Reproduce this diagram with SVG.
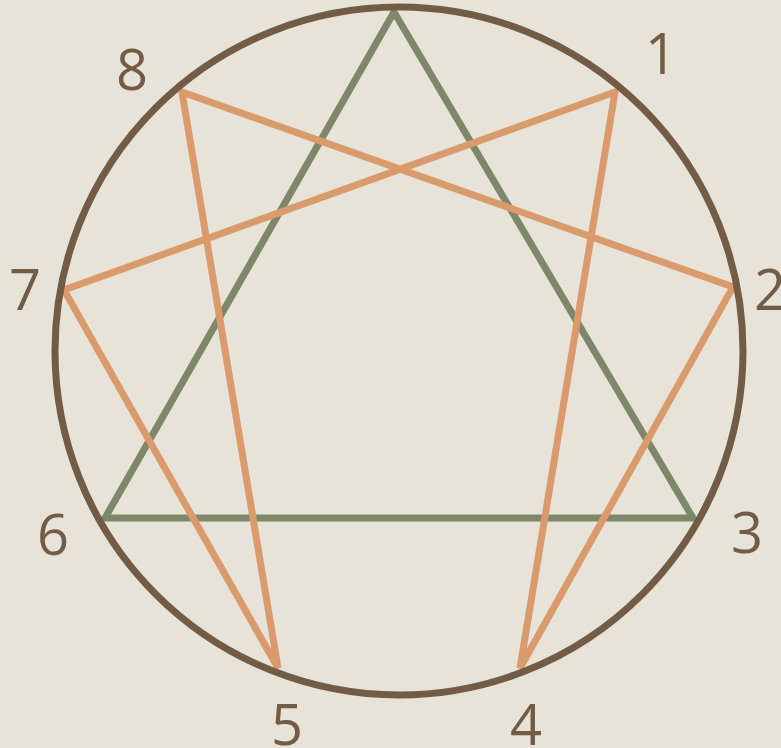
<svg xmlns="http://www.w3.org/2000/svg" width="781" height="748" viewBox="0 0 781 748">
<style>
.lbl{font-family:"Open Sans","Noto Sans",sans-serif;font-size:56px;fill:#735c45}
.tri{fill:none;stroke:#7f876a;stroke-width:7;stroke-linejoin:miter}
.hex{fill:none;stroke:#d99a6c;stroke-width:7;stroke-linejoin:miter}
.ring{fill:none;stroke:#735c45;stroke-width:7}
</style>
<rect width="781" height="748" fill="#e7e3d9"/>
<g id="connectors">
<polygon class="tri" points="394,12 693,518 105,518"/>
<polygon class="hex" points="615,92 520,668 733,287 182,92 278,668 64,290"/>
</g>
<g id="ring"><circle class="ring" cx="399" cy="351" r="344"/></g>
<g id="n1"><text class="lbl" x="645" y="74">1</text></g>
<g id="n2"><text class="lbl" x="754" y="310">2</text></g>
<g id="n3"><text class="lbl" x="731" y="553">3</text></g>
<g id="n4"><text class="lbl" x="510" y="745">4</text></g>
<g id="n5"><text class="lbl" x="271" y="745">5</text></g>
<g id="n6"><text class="lbl" x="37" y="555">6</text></g>
<g id="n7"><text class="lbl" x="9" y="310">7</text></g>
<g id="n8"><text class="lbl" x="116" y="90">8</text></g>
</svg>
